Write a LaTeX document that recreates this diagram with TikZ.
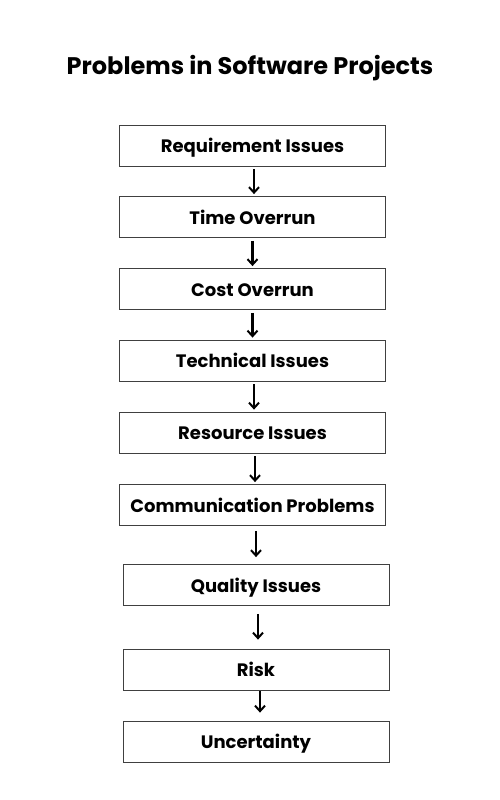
\documentclass[tikz,border=0pt]{standalone}
\usepackage{fontspec}
\setmainfont{Poppins}
\usetikzlibrary{arrows.meta, positioning}

\tikzset{
    stage/.style={draw=black!75, line width=0.8pt, minimum width=266pt, minimum height=41pt,
        inner sep=0pt, text height=15pt, text depth=1pt, font=\fontsize{18}{20}\selectfont\bfseries},
    flow/.style={-{Straight Barb[length=5.5pt, width=10pt, line width=2pt]}, line width=2.2pt}
}

\begin{document}
\begin{tikzpicture}[x=1pt, y=-1pt]
    \useasboundingbox (0,0) rectangle (500,800);
    \fill[white] (0,0) rectangle (500,800);

    \node[font=\fontsize{24}{28}\selectfont\bfseries] (title) at (250,68) {Problems in Software Projects};

    % stages, top to bottom
    \node[stage] (req)  at (252.5,145.5) {Requirement Issues};
    \node[stage] (time) at (252.5,217)   {Time Overrun};
    \node[stage] (cost) at (252.5,289)   {Cost Overrun};
    \node[stage] (tech) at (252.5,360.5) {Technical Issues};
    \node[stage] (res)  at (252.5,432.5) {Resource Issues};
    \node[stage] (comm) at (252.5,505)   {Communication Problems};
    \node[stage] (qual) at (256,585)     {Quality Issues};
    \node[stage] (risk) at (256,669.5)   {Risk};
    \node[stage] (unc)  at (256,741.5)   {Uncertainty};

    % arrows
    \draw[flow, shorten <=3pt, shorten >=2pt] ([xshift=1.5pt]req.south)  -- ([xshift=1.5pt]req.south |- time.north);
    \draw[flow, shorten <=3pt, shorten >=2pt] (time.south) -- (cost.north);
    \draw[flow, shorten <=3pt, shorten >=2pt] (cost.south) -- (tech.north);
    \draw[flow, shorten <=3pt, shorten >=2pt] ([xshift=1.5pt]tech.south) -- ([xshift=1.5pt]tech.south |- res.north);
    \draw[flow, shorten <=3pt, shorten >=2pt] ([xshift=2.5pt]res.south)  -- ([xshift=2.5pt]res.south |- comm.north);
    \draw[flow, shorten <=5pt, shorten >=7pt] ([xshift=3.5pt]comm.south) -- ([xshift=3.5pt]comm.south |- qual.north);
    \draw[flow, shorten <=8pt, shorten >=9pt] ([xshift=2pt]qual.south)  -- ([xshift=2pt]qual.south |- risk.north);
    \draw[flow, shorten <=1pt, shorten >=8pt] ([xshift=4pt]risk.south)  -- ([xshift=4pt]risk.south |- unc.north);
\end{tikzpicture}
\end{document}
